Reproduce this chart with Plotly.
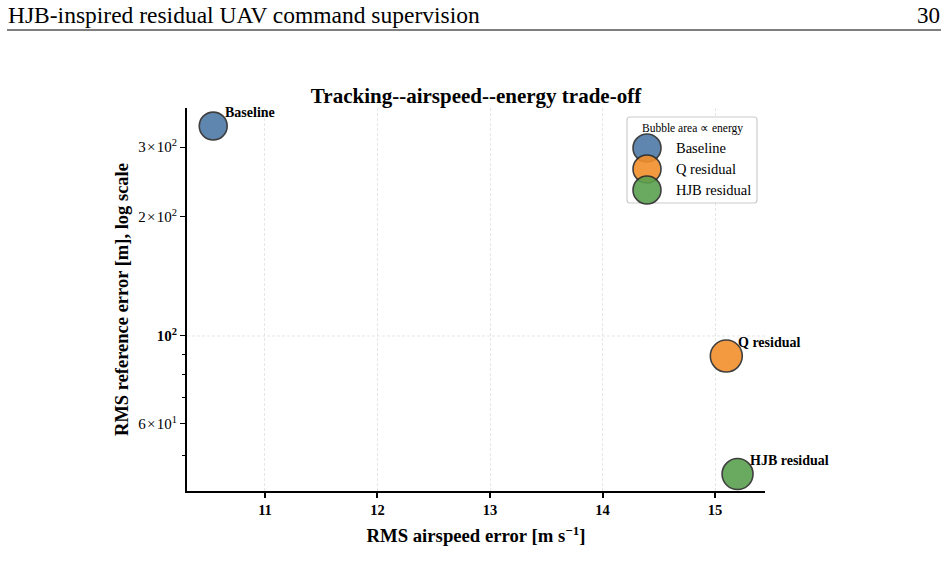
import math
import plotly.graph_objects as go

# ---------------- data ----------------
methods = ["Baseline", "Q residual", "HJB residual"]
rms_airspeed = [10.54, 15.10, 15.20]          # m/s
rms_reference = [339.0, 89.0, 44.8]           # m (log scale)
energy = [7.8, 10.2, 9.6]                      # relative energy (bubble area)
colors = ["#4E79A7", "#F28E2B", "#59A14F"]

x_ticks = [11, 12, 13, 14, 15]
y_ticks = [60, 100, 200, 300]
y_ticktext = ["6\u200a×\u200a10<sup>1</sup>", "<b>10<sup>2</sup></b>",
              "2\u200a×\u200a10<sup>2</sup>", "3\u200a×\u200a10<sup>2</sup>"]
y_minor = [50, 70, 80, 90]

W, H = 948, 573
L, R, T, B = 187, 765, 108, 491
FONT = "Liberation Serif"


def px_x(p):
    return (p - L) / (R - L)


def px_y(p):
    return (B - p) / (B - T)


diam = [10.0 * e ** 0.5 for e in energy]

fig = go.Figure()
annotations = []
shapes = []
for i, m in enumerate(methods):
    fig.add_trace(go.Scatter(
        x=[rms_airspeed[i]], y=[rms_reference[i]], mode="markers", name=m,
        marker=dict(size=[diam[i]], sizemode="diameter", color=colors[i], opacity=0.9,
                    line=dict(color="#2b2b2b", width=1.6)),
        showlegend=False, hoverinfo="skip"))
    annotations.append(dict(x=rms_airspeed[i], y=math.log10(rms_reference[i]),
                            xref="x", yref="y", text="<b>" + m + "</b>", showarrow=True,
                            arrowcolor="rgba(0,0,0,0)", ax=10, ay=-14, xanchor="left", yanchor="middle",
                            font=dict(family=FONT, size=14, color="black")))

# y grid line only at major decade
shapes.append(dict(type="line", xref="paper", yref="y", x0=0, x1=1, y0=100, y1=100,
                   line=dict(color="#e6e6e6", width=1, dash="3px,2px"), layer="below"))
# header rule
shapes.append(dict(type="line", xref="paper", yref="paper", x0=px_x(7), x1=px_x(941),
                   y0=px_y(30), y1=px_y(30), line=dict(color="black", width=1.2)))
# custom legend box (rounded)
hw, hh, rc = 65, 43, 3
box_path = (f"M {-hw+rc},{-hh} L {hw-rc},{-hh} Q {hw},{-hh} {hw},{-hh+rc} L {hw},{hh-rc} "
            f"Q {hw},{hh} {hw-rc},{hh} L {-hw+rc},{hh} Q {-hw},{hh} {-hw},{hh-rc} "
            f"L {-hw},{-hh+rc} Q {-hw},{-hh} {-hw+rc},{-hh} Z")
shapes.append(dict(type="path", xref="paper", yref="paper", xsizemode="pixel", ysizemode="pixel",
                   xanchor=px_x(692), yanchor=px_y(160), path=box_path,
                   line=dict(color="#cccccc", width=1.2), fillcolor="rgba(255,255,255,0.85)"))
annotations.append(dict(xref="paper", yref="paper", x=px_x(692), y=px_y(128), text="Bubble area ∝ energy",
                        showarrow=False, xanchor="center", yanchor="middle",
                        font=dict(family=FONT, size=11.5, color="black")))
for i, m in enumerate(methods):
    cy = 148 + 21 * i
    shapes.append(dict(type="circle", xref="paper", yref="paper", xsizemode="pixel", ysizemode="pixel",
                       xanchor=px_x(647), yanchor=px_y(cy), x0=-14, x1=14, y0=-14, y1=14,
                       fillcolor=colors[i], opacity=0.9, line=dict(color="#2b2b2b", width=1.6)))
    annotations.append(dict(xref="paper", yref="paper", x=px_x(674), y=px_y(cy), text=m,
                            showarrow=False, xanchor="left", yanchor="middle",
                            font=dict(family=FONT, size=14.5, color="black")))

# header texts
annotations.append(dict(xref="paper", yref="paper", x=px_x(6), y=px_y(15), text="HJB-inspired residual UAV command supervision",
                        showarrow=False, xanchor="left", yanchor="middle",
                        font=dict(family=FONT, size=23.5, color="black")))
annotations.append(dict(xref="paper", yref="paper", x=px_x(942), y=px_y(15), text="30",
                        showarrow=False, xanchor="right", yanchor="middle",
                        font=dict(family=FONT, size=23, color="black")))

fig.update_layout(
    width=W, height=H,
    margin=dict(l=L, r=W - R, t=T, b=H - B, pad=0),
    paper_bgcolor="white", plot_bgcolor="white",
    title=dict(text="<b>Tracking--airspeed--energy trade-off</b>", x=px_x(476), xref="paper",
               y=(H - 96) / H, yanchor="middle", xanchor="center",
               font=dict(family=FONT, size=21, color="black")),
    font=dict(family=FONT, color="black"),
    shapes=shapes, annotations=annotations,
    xaxis=dict(range=[10.307, 15.444], tickvals=x_ticks, ticktext=["<b>%d</b>" % v for v in x_ticks],
               showgrid=True, gridcolor="#e6e6e6", griddash="3px,2px", gridwidth=1,
               showline=True, linecolor="black", linewidth=2, ticks="outside", ticklen=5,
               tickwidth=1.5, tickcolor="black", zeroline=False,
               tickfont=dict(family=FONT, size=14.5, color="black"),
               title=dict(text="<b>RMS airspeed error [m s<sup>−1</sup>]</b>", standoff=12,
                          font=dict(family=FONT, size=18.7, color="black"))),
    yaxis=dict(type="log", range=[1.6085, 2.5758], tickvals=y_ticks, ticktext=y_ticktext,
               showgrid=False, showline=True, linecolor="black", linewidth=2, ticks="outside",
               ticklen=5, tickwidth=1.2, tickcolor="black", zeroline=False,
               minor=dict(tickvals=y_minor, ticks="outside", ticklen=3, tickwidth=1, tickcolor="black"),
               tickfont=dict(family=FONT, size=15, color="black"),
               title=dict(text="<b>RMS reference error [m], log scale</b>", standoff=5,
                          font=dict(family=FONT, size=18.5, color="black"))),
)

fig.write_html("out.html")
